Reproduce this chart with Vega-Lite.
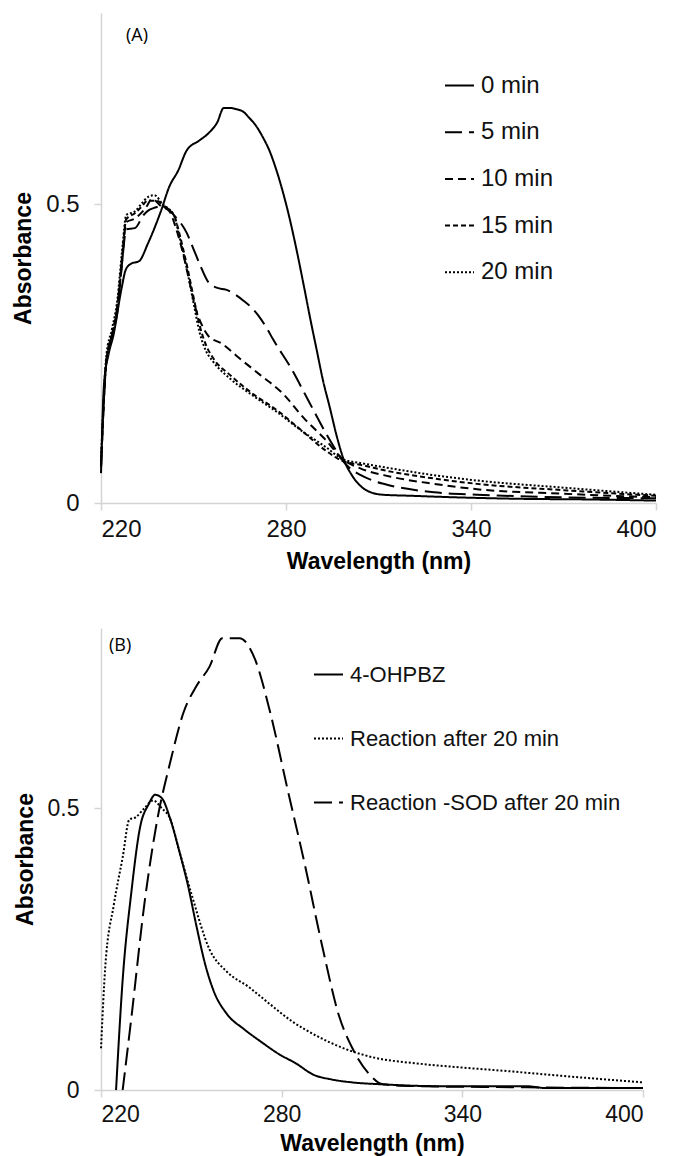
{
  "$schema": "https://vega.github.io/schema/vega-lite/v6.json",
  "padding": {"left": 12, "top": 13, "right": 20, "bottom": 2},
  "spacing": 55,
  "columns": 1,
  "align": "none",
  "config": {
    "view": {"stroke": null},
    "font": "Liberation Sans",
    "axis": {"domainColor": "#d4d4d4", "domainWidth": 1.5, "tickColor": "#d4d4d4", "tickWidth": 1.5, "tickSize": 7, "labelFontSize": 24, "labelColor": "#111111", "labelFont": "Liberation Sans", "titleFontSize": 23, "titleFont": "Liberation Sans", "titleFontWeight": "bold", "titleColor": "#000000", "grid": false},
    "legend": {"title": null, "symbolType": "stroke", "symbolSize": 841, "symbolStrokeWidth": 2, "symbolStrokeColor": "black", "labelFontSize": 24, "labelColor": "#111111", "labelFont": "Liberation Sans", "labelOffset": 6, "labelLimit": 0}
  },
  "datasets": {
    "a": [
      {"s":"0 min","nm":220,"abs":0.05},{"s":"0 min","nm":221,"abs":0.2},{"s":"0 min","nm":222.5,"abs":0.25},{"s":"0 min","nm":224,"abs":0.28},{"s":"0 min","nm":226.7,"abs":0.36},{"s":"0 min","nm":228,"abs":0.39},{"s":"0 min","nm":229.6,"abs":0.4},{"s":"0 min","nm":232.4,"abs":0.405},{"s":"0 min","nm":235.2,"abs":0.434},{"s":"0 min","nm":239.4,"abs":0.488},{"s":"0 min","nm":242.2,"abs":0.53},{"s":"0 min","nm":245,"abs":0.556},{"s":"0 min","nm":247.8,"abs":0.59},{"s":"0 min","nm":252,"abs":0.607},{"s":"0 min","nm":254.9,"abs":0.619},{"s":"0 min","nm":257.7,"abs":0.637},{"s":"0 min","nm":259.8,"abs":0.661},{"s":"0 min","nm":261.9,"abs":0.661},{"s":"0 min","nm":264,"abs":0.659},{"s":"0 min","nm":266.1,"abs":0.655},{"s":"0 min","nm":268,"abs":0.645},{"s":"0 min","nm":270.3,"abs":0.631},{"s":"0 min","nm":272.5,"abs":0.612},{"s":"0 min","nm":274.6,"abs":0.59},{"s":"0 min","nm":276.7,"abs":0.56},{"s":"0 min","nm":278.8,"abs":0.524},{"s":"0 min","nm":281,"abs":0.48},{"s":"0 min","nm":283,"abs":0.434},{"s":"0 min","nm":285.8,"abs":0.363},{"s":"0 min","nm":288,"abs":0.305},{"s":"0 min","nm":290,"abs":0.255},{"s":"0 min","nm":292,"abs":0.205},{"s":"0 min","nm":294.2,"abs":0.16},{"s":"0 min","nm":296.3,"abs":0.115},{"s":"0 min","nm":298.5,"abs":0.076},{"s":"0 min","nm":301.3,"abs":0.047},{"s":"0 min","nm":303.5,"abs":0.032},{"s":"0 min","nm":305.5,"abs":0.023},{"s":"0 min","nm":308,"abs":0.017},{"s":"0 min","nm":311.1,"abs":0.014},{"s":"0 min","nm":321,"abs":0.012},{"s":"0 min","nm":335,"abs":0.0095},{"s":"0 min","nm":356,"abs":0.007},{"s":"0 min","nm":377,"abs":0.006},{"s":"0 min","nm":400,"abs":0.004},
      {"s":"5 min","nm":220,"abs":0.06},{"s":"5 min","nm":221.8,"abs":0.24},{"s":"5 min","nm":223.5,"abs":0.28},{"s":"5 min","nm":225.3,"abs":0.32},{"s":"5 min","nm":226.8,"abs":0.4},{"s":"5 min","nm":228.2,"abs":0.458},{"s":"5 min","nm":231,"abs":0.46},{"s":"5 min","nm":233.8,"abs":0.482},{"s":"5 min","nm":235.5,"abs":0.49},{"s":"5 min","nm":237.3,"abs":0.494},{"s":"5 min","nm":240.1,"abs":0.497},{"s":"5 min","nm":243.6,"abs":0.482},{"s":"5 min","nm":247.8,"abs":0.452},{"s":"5 min","nm":250,"abs":0.425},{"s":"5 min","nm":252,"abs":0.4},{"s":"5 min","nm":254.9,"abs":0.369},{"s":"5 min","nm":257.7,"abs":0.36},{"s":"5 min","nm":260.5,"abs":0.357},{"s":"5 min","nm":266.1,"abs":0.339},{"s":"5 min","nm":269,"abs":0.326},{"s":"5 min","nm":271.7,"abs":0.309},{"s":"5 min","nm":273.8,"abs":0.292},{"s":"5 min","nm":275.9,"abs":0.273},{"s":"5 min","nm":281.6,"abs":0.226},{"s":"5 min","nm":287.2,"abs":0.172},{"s":"5 min","nm":292.8,"abs":0.118},{"s":"5 min","nm":296,"abs":0.09},{"s":"5 min","nm":298.5,"abs":0.07},{"s":"5 min","nm":301,"abs":0.057},{"s":"5 min","nm":304.1,"abs":0.047},{"s":"5 min","nm":309,"abs":0.036},{"s":"5 min","nm":314,"abs":0.029},{"s":"5 min","nm":328,"abs":0.018},{"s":"5 min","nm":342,"abs":0.014},{"s":"5 min","nm":370,"abs":0.0095},{"s":"5 min","nm":400,"abs":0.008},
      {"s":"10 min","nm":220,"abs":0.06},{"s":"10 min","nm":221.8,"abs":0.24},{"s":"10 min","nm":223.5,"abs":0.28},{"s":"10 min","nm":225.3,"abs":0.327},{"s":"10 min","nm":226.8,"abs":0.4},{"s":"10 min","nm":228.2,"abs":0.47},{"s":"10 min","nm":231,"abs":0.476},{"s":"10 min","nm":234.5,"abs":0.494},{"s":"10 min","nm":236.6,"abs":0.509},{"s":"10 min","nm":239.4,"abs":0.497},{"s":"10 min","nm":242.2,"abs":0.488},{"s":"10 min","nm":244.3,"abs":0.46},{"s":"10 min","nm":246.4,"abs":0.422},{"s":"10 min","nm":248.5,"abs":0.375},{"s":"10 min","nm":250.6,"abs":0.327},{"s":"10 min","nm":252.7,"abs":0.298},{"s":"10 min","nm":254.9,"abs":0.279},{"s":"10 min","nm":259.1,"abs":0.267},{"s":"10 min","nm":264.7,"abs":0.243},{"s":"10 min","nm":271.7,"abs":0.214},{"s":"10 min","nm":278.8,"abs":0.184},{"s":"10 min","nm":285.8,"abs":0.142},{"s":"10 min","nm":292.8,"abs":0.106},{"s":"10 min","nm":298.5,"abs":0.073},{"s":"10 min","nm":304.1,"abs":0.058},{"s":"10 min","nm":314,"abs":0.044},{"s":"10 min","nm":328,"abs":0.032},{"s":"10 min","nm":342,"abs":0.023},{"s":"10 min","nm":370,"abs":0.0155},{"s":"10 min","nm":400,"abs":0.0095},
      {"s":"15 min","nm":220,"abs":0.06},{"s":"15 min","nm":221.8,"abs":0.24},{"s":"15 min","nm":223.5,"abs":0.28},{"s":"15 min","nm":225.3,"abs":0.33},{"s":"15 min","nm":226.8,"abs":0.41},{"s":"15 min","nm":228.2,"abs":0.475},{"s":"15 min","nm":231,"abs":0.485},{"s":"15 min","nm":233,"abs":0.495},{"s":"15 min","nm":235.2,"abs":0.506},{"s":"15 min","nm":238,"abs":0.506},{"s":"15 min","nm":240.8,"abs":0.494},{"s":"15 min","nm":243.6,"abs":0.482},{"s":"15 min","nm":245.7,"abs":0.445},{"s":"15 min","nm":247.8,"abs":0.399},{"s":"15 min","nm":250,"abs":0.345},{"s":"15 min","nm":252,"abs":0.297},{"s":"15 min","nm":254,"abs":0.265},{"s":"15 min","nm":256.3,"abs":0.243},{"s":"15 min","nm":261.9,"abs":0.214},{"s":"15 min","nm":268.9,"abs":0.184},{"s":"15 min","nm":277.4,"abs":0.154},{"s":"15 min","nm":285.8,"abs":0.118},{"s":"15 min","nm":292.8,"abs":0.088},{"s":"15 min","nm":298.5,"abs":0.07},{"s":"15 min","nm":304.1,"abs":0.064},{"s":"15 min","nm":314,"abs":0.0525},{"s":"15 min","nm":328,"abs":0.041},{"s":"15 min","nm":342,"abs":0.032},{"s":"15 min","nm":370,"abs":0.0215},{"s":"15 min","nm":400,"abs":0.012},
      {"s":"20 min","nm":220,"abs":0.07},{"s":"20 min","nm":221.8,"abs":0.25},{"s":"20 min","nm":223.5,"abs":0.29},{"s":"20 min","nm":225.3,"abs":0.34},{"s":"20 min","nm":226.8,"abs":0.42},{"s":"20 min","nm":228.2,"abs":0.482},{"s":"20 min","nm":231,"abs":0.488},{"s":"20 min","nm":233,"abs":0.5},{"s":"20 min","nm":235.2,"abs":0.512},{"s":"20 min","nm":237.3,"abs":0.515},{"s":"20 min","nm":240,"abs":0.5},{"s":"20 min","nm":243.6,"abs":0.482},{"s":"20 min","nm":245.7,"abs":0.44},{"s":"20 min","nm":247.8,"abs":0.393},{"s":"20 min","nm":250,"abs":0.335},{"s":"20 min","nm":252,"abs":0.285},{"s":"20 min","nm":254,"abs":0.255},{"s":"20 min","nm":256.3,"abs":0.237},{"s":"20 min","nm":261.9,"abs":0.208},{"s":"20 min","nm":268.9,"abs":0.181},{"s":"20 min","nm":277.4,"abs":0.151},{"s":"20 min","nm":285.8,"abs":0.118},{"s":"20 min","nm":292.8,"abs":0.094},{"s":"20 min","nm":298.5,"abs":0.073},{"s":"20 min","nm":304.1,"abs":0.067},{"s":"20 min","nm":314,"abs":0.058},{"s":"20 min","nm":328,"abs":0.0465},{"s":"20 min","nm":342,"abs":0.0376},{"s":"20 min","nm":370,"abs":0.0257},{"s":"20 min","nm":400,"abs":0.0137}
    ],
    "b": [
      {"s":"4-OHPBZ","nm":225,"abs":0},{"s":"4-OHPBZ","nm":227.2,"abs":0.196},{"s":"4-OHPBZ","nm":230.1,"abs":0.352},{"s":"4-OHPBZ","nm":233,"abs":0.467},{"s":"4-OHPBZ","nm":235.8,"abs":0.507},{"s":"4-OHPBZ","nm":238,"abs":0.524},{"s":"4-OHPBZ","nm":240.2,"abs":0.518},{"s":"4-OHPBZ","nm":243,"abs":0.481},{"s":"4-OHPBZ","nm":245.9,"abs":0.426},{"s":"4-OHPBZ","nm":248.8,"abs":0.365},{"s":"4-OHPBZ","nm":251.7,"abs":0.291},{"s":"4-OHPBZ","nm":254.6,"abs":0.223},{"s":"4-OHPBZ","nm":257.4,"abs":0.176},{"s":"4-OHPBZ","nm":261.8,"abs":0.135},{"s":"4-OHPBZ","nm":267.5,"abs":0.108},{"s":"4-OHPBZ","nm":273.3,"abs":0.085},{"s":"4-OHPBZ","nm":279,"abs":0.064},{"s":"4-OHPBZ","nm":284.8,"abs":0.047},{"s":"4-OHPBZ","nm":290.6,"abs":0.027},{"s":"4-OHPBZ","nm":296.3,"abs":0.019},{"s":"4-OHPBZ","nm":303.5,"abs":0.0135},{"s":"4-OHPBZ","nm":313.6,"abs":0.01},{"s":"4-OHPBZ","nm":332.3,"abs":0.0068},{"s":"4-OHPBZ","nm":346.7,"abs":0.0068},{"s":"4-OHPBZ","nm":361,"abs":0.0068},{"s":"4-OHPBZ","nm":368,"abs":0.0034},{"s":"4-OHPBZ","nm":400,"abs":0.0034},
      {"s":"Reaction after 20 min","nm":220,"abs":0.074},{"s":"Reaction after 20 min","nm":221.4,"abs":0.217},{"s":"Reaction after 20 min","nm":224.3,"abs":0.33},{"s":"Reaction after 20 min","nm":227.2,"abs":0.413},{"s":"Reaction after 20 min","nm":229.4,"abs":0.48},{"s":"Reaction after 20 min","nm":231.5,"abs":0.484},{"s":"Reaction after 20 min","nm":234.4,"abs":0.5},{"s":"Reaction after 20 min","nm":237.3,"abs":0.514},{"s":"Reaction after 20 min","nm":240.2,"abs":0.5},{"s":"Reaction after 20 min","nm":243,"abs":0.481},{"s":"Reaction after 20 min","nm":245.9,"abs":0.426},{"s":"Reaction after 20 min","nm":250.2,"abs":0.345},{"s":"Reaction after 20 min","nm":256,"abs":0.25},{"s":"Reaction after 20 min","nm":261.8,"abs":0.21},{"s":"Reaction after 20 min","nm":269,"abs":0.183},{"s":"Reaction after 20 min","nm":276.2,"abs":0.152},{"s":"Reaction after 20 min","nm":283.4,"abs":0.122},{"s":"Reaction after 20 min","nm":292,"abs":0.095},{"s":"Reaction after 20 min","nm":300.6,"abs":0.074},{"s":"Reaction after 20 min","nm":310.7,"abs":0.0575},{"s":"Reaction after 20 min","nm":325.1,"abs":0.047},{"s":"Reaction after 20 min","nm":339.5,"abs":0.04},{"s":"Reaction after 20 min","nm":353.9,"abs":0.034},{"s":"Reaction after 20 min","nm":375.5,"abs":0.024},{"s":"Reaction after 20 min","nm":400,"abs":0.0135},
      {"s":"Reaction -SOD after 20 min","nm":227.2,"abs":0},{"s":"Reaction -SOD after 20 min","nm":230.1,"abs":0.129},{"s":"Reaction -SOD after 20 min","nm":234.4,"abs":0.33},{"s":"Reaction -SOD after 20 min","nm":238.7,"abs":0.48},{"s":"Reaction -SOD after 20 min","nm":243,"abs":0.582},{"s":"Reaction -SOD after 20 min","nm":247.4,"abs":0.67},{"s":"Reaction -SOD after 20 min","nm":251.7,"abs":0.717},{"s":"Reaction -SOD after 20 min","nm":256,"abs":0.751},{"s":"Reaction -SOD after 20 min","nm":260.3,"abs":0.802},{"s":"Reaction -SOD after 20 min","nm":266,"abs":0.802},{"s":"Reaction -SOD after 20 min","nm":271.1,"abs":0.765},{"s":"Reaction -SOD after 20 min","nm":276.2,"abs":0.67},{"s":"Reaction -SOD after 20 min","nm":281.9,"abs":0.535},{"s":"Reaction -SOD after 20 min","nm":287.7,"abs":0.4},{"s":"Reaction -SOD after 20 min","nm":293.4,"abs":0.257},{"s":"Reaction -SOD after 20 min","nm":299.2,"abs":0.129},{"s":"Reaction -SOD after 20 min","nm":303.5,"abs":0.074},{"s":"Reaction -SOD after 20 min","nm":309.3,"abs":0.027},{"s":"Reaction -SOD after 20 min","nm":313.6,"abs":0.01},{"s":"Reaction -SOD after 20 min","nm":325,"abs":0.0068},{"s":"Reaction -SOD after 20 min","nm":346.7,"abs":0.0054},{"s":"Reaction -SOD after 20 min","nm":400,"abs":0.0034}
    ]
  },
  "concat": [
    {
      "width": 555, "height": 490,
      "title": {"text": "(A)", "anchor": "start", "frame": "group", "offset": -32, "dx": 25, "fontSize": 18, "font": "Open Sans", "fontWeight": "normal", "color": "#000000"},
      "data": {"name": "a"},
      "mark": {"type": "line", "color": "black", "strokeWidth": 2, "interpolate": "monotone"},
      "encoding": {
        "x": {"field": "nm", "type": "quantitative", "scale": {"domain": [220, 400], "nice": false}, "axis": {"values": [220, 280, 340, 400], "title": "Wavelength (nm)", "labelPadding": 7, "titlePadding": 9}},
        "y": {"field": "abs", "type": "quantitative", "scale": {"domain": [0, 0.82], "nice": false}, "axis": {"values": [0, 0.5], "format": ".1~f", "title": "Absorbance", "labelPadding": 15, "titlePadding": 10}},
        "strokeDash": {"field": "s", "type": "nominal", "scale": {"domain": ["0 min", "5 min", "10 min", "15 min", "20 min"], "range": [[1, 0], [17, 7], [8, 5], [5, 3], [2, 2]]}, "legend": {"orient": "none", "legendX": 343, "legendY": 57, "rowPadding": 18.7}}
      }
    },
    {
      "width": 542, "height": 462,
      "title": {"text": "(B)", "anchor": "start", "frame": "group", "offset": -27, "dx": 8, "fontSize": 18, "font": "Open Sans", "fontWeight": "normal", "color": "#000000"},
      "data": {"name": "b"},
      "mark": {"type": "line", "color": "black", "strokeWidth": 2, "interpolate": "monotone"},
      "encoding": {
        "x": {"field": "nm", "type": "quantitative", "scale": {"domain": [220, 400], "nice": false}, "axis": {"values": [220, 280, 340, 400], "title": "Wavelength (nm)", "labelPadding": 6, "titlePadding": 6, "labelFontSize": 23}},
        "y": {"field": "abs", "type": "quantitative", "scale": {"domain": [0, 0.82], "nice": false}, "axis": {"values": [0, 0.5], "format": ".1~f", "title": "Absorbance", "labelPadding": 15, "titlePadding": 10, "labelFontSize": 23}},
        "strokeDash": {"field": "s", "type": "nominal", "scale": {"domain": ["4-OHPBZ", "Reaction after 20 min", "Reaction -SOD after 20 min"], "range": [[1, 0], [2, 2], [18, 7]]}, "legend": {"orient": "none", "legendX": 212, "legendY": 31, "rowPadding": 37, "labelFontSize": 22}}
      }
    }
  ],
  "resolve": {"scale": {"strokeDash": "independent"}, "legend": {"strokeDash": "independent"}}
}
